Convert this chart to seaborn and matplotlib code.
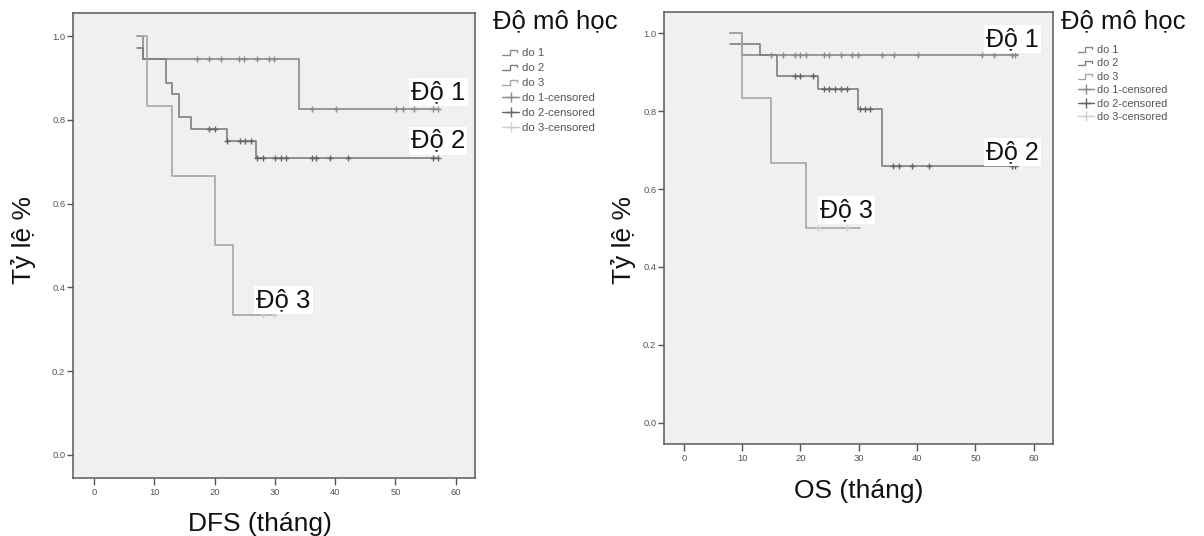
import numpy as np
import pandas as pd
import matplotlib
matplotlib.use("Agg")
import matplotlib.pyplot as plt
from matplotlib.lines import Line2D
from matplotlib.legend_handler import HandlerBase, HandlerLine2D
from matplotlib.ticker import FormatStrFormatter
import seaborn as sns

# ---- Kaplan-Meier estimates, disease-free survival (months) ----
# each curve: times where the level changes (first = curve start), levels, end time, censored times
dfs_g1_t = [7.2, 8.1, 34.0]
dfs_g1_s = [1.000, 0.944, 0.826]
dfs_g1_end = 57.0
dfs_g1_cens = [17.0, 19.1, 21.0, 24.1, 24.9, 27.0, 29.1, 29.9,
               36.1, 40.1, 50.1, 51.2, 53.1, 56.2, 57.0]

dfs_g2_t = [7.2, 8.1, 11.9, 13.0, 14.1, 16.1, 22.0, 26.9]
dfs_g2_s = [0.972, 0.944, 0.889, 0.861, 0.806, 0.778, 0.750, 0.710]
dfs_g2_end = 57.0
dfs_g2_cens = [19.1, 20.0, 22.0, 24.2, 25.0, 26.0, 27.0, 28.1, 30.0, 31.0,
               31.9, 36.1, 36.9, 39.1, 42.1, 56.2, 57.0]

dfs_g3_t = [7.2, 8.8, 13.0, 20.0, 23.0]
dfs_g3_s = [1.000, 0.833, 0.667, 0.500, 0.333]
dfs_g3_end = 30.0
dfs_g3_cens = [28.1, 29.9]

# ---- Kaplan-Meier estimates, overall survival (months) ----
os_g1_t = [8.0, 10.0]
os_g1_s = [1.000, 0.944]
os_g1_end = 57.3
os_g1_cens = [15.0, 17.0, 19.0, 19.9, 20.9, 24.1, 24.9, 27.0, 28.9, 29.9,
              34.0, 36.0, 40.1, 51.1, 53.1, 56.2, 56.8]

os_g2_t = [8.0, 13.0, 16.0, 23.0, 29.9, 34.0]
os_g2_s = [0.972, 0.944, 0.889, 0.857, 0.806, 0.660]
os_g2_end = 57.3
os_g2_cens = [19.0, 19.9, 22.1, 24.1, 24.9, 25.9, 26.9, 27.9, 30.2, 31.0,
              32.0, 35.9, 36.9, 39.1, 42.1, 56.2, 56.8]

os_g3_t = [8.0, 10.0, 15.0, 21.0]
os_g3_s = [1.000, 0.833, 0.667, 0.500]
os_g3_end = 30.2
os_g3_cens = [23.0, 28.0]

group_labels = ["do 1", "do 2", "do 3"]
censor_labels = ["do 1-censored", "do 2-censored", "do 3-censored"]
curve_labels = ["Độ 1", "Độ 2", "Độ 3"]
legend_title = "Độ mô học"
x_ticks = [0, 10, 20, 30, 40, 50, 60]
y_ticks = [0.0, 0.2, 0.4, 0.6, 0.8, 1.0]

line_colors = ["#8a8a8a", "#7e7e7e", "#a6a6a6"]
cens_colors = ["#8a8a8a", "#646464", "#cdcdcd"]

sns.set_theme(style="white")
plt.rcParams.update({
    "axes.facecolor": "#f0f0f0",
    "axes.edgecolor": "#5a5a5a",
    "axes.linewidth": 1.1,
    "xtick.color": "#555555",
    "ytick.color": "#555555",
    "xtick.labelcolor": "#555555",
    "ytick.labelcolor": "#555555",
})
plt.rcParams["font.family"] = ["Liberation Sans", "DejaVu Sans"]

W, H = 1204, 536
fig = plt.figure(figsize=(W / 100, H / 100), dpi=100)


def px_axes(l, t, r, b):
    return fig.add_axes([l / W, 1 - b / H, (r - l) / W, (b - t) / H])


def draw_curve(ax, t, s, end, cens, lc, cc):
    xs = list(t) + [end]
    ys = list(s) + [s[-1]]
    sns.lineplot(x=xs, y=ys, ax=ax, drawstyle="steps-post", estimator=None,
                 sort=False, color=lc, linewidth=1.2, zorder=2)
    idx = np.searchsorted(t, cens, side="right") - 1
    yc = np.asarray(s)[idx]
    sns.scatterplot(x=cens, y=yc, ax=ax, marker="+", s=22, color=cc,
                    linewidth=1.0, zorder=3)


def style_axes(ax, xlim, ylim):
    ax.set_xlim(*xlim)
    ax.set_ylim(*ylim)
    ax.set_xticks(x_ticks)
    ax.set_yticks(y_ticks)
    ax.yaxis.set_major_formatter(FormatStrFormatter("%.1f"))
    ax.tick_params(axis="x", direction="out", length=5, width=1.0, pad=2,
                   labelsize=6.8, bottom=True)
    ax.tick_params(axis="y", direction="out", length=4.5, width=1.0, pad=1,
                   labelsize=6.8, left=True)
    for sp in ax.spines.values():
        sp.set_visible(True)


class StepHandler(HandlerBase):
    def create_artists(self, legend, orig_handle, xdescent, ydescent,
                       width, height, fontsize, trans):
        x = np.array([0.0, 0.45, 0.45, 0.85, 0.85]) * width - xdescent
        y = np.array([0.15, 0.15, 0.75, 0.75, 0.5]) * height - ydescent
        ln = Line2D(x, y, color=orig_handle.get_color(),
                    lw=orig_handle.get_linewidth(), transform=trans)
        return [ln]


def add_legend(x_title, y_title, x_entries, y_entries, fs, spacing, title_fs):
    fig.text(x_title / W, 1 - y_title / H, legend_title, fontsize=title_fs,
             ha="left", va="center", color="#111111")
    handles = [Line2D([], [], color=c, lw=1.0) for c in line_colors]
    handles += [Line2D([], [], color=c, lw=1.0, marker="+", markersize=7,
                       markeredgewidth=1.0) for c in cens_colors]
    hmap = {h: StepHandler() for h in handles[:3]}
    hmap.update({h: HandlerLine2D(numpoints=1) for h in handles[3:]})
    leg = fig.legend(handles, group_labels + censor_labels, loc="upper left",
                     bbox_to_anchor=(x_entries / W, 1 - y_entries / H),
                     bbox_transform=fig.transFigure, frameon=False,
                     fontsize=fs, handlelength=1.5, handletextpad=0.25,
                     labelspacing=spacing, borderpad=0, borderaxespad=0,
                     handler_map=hmap)
    for txt in leg.get_texts():
        txt.set_color("#555555")


def label_box(ax, x, y, text, fs):
    ax.text(x, y, text, fontsize=fs, ha="left", va="center", color="#111111",
            zorder=5, bbox=dict(boxstyle="square,pad=0.08", facecolor="white",
                                edgecolor="none"))


# ---- left panel: DFS ----
ax1 = px_axes(73, 13, 475, 478)
for t, s, e, c, lc, cc in zip([dfs_g1_t, dfs_g2_t, dfs_g3_t],
                              [dfs_g1_s, dfs_g2_s, dfs_g3_s],
                              [dfs_g1_end, dfs_g2_end, dfs_g3_end],
                              [dfs_g1_cens, dfs_g2_cens, dfs_g3_cens],
                              line_colors, cens_colors):
    draw_curve(ax1, t, s, e, c, lc, cc)
style_axes(ax1, (-3.5, 63.2), (-0.055, 1.055))
ax1.set_xlabel("DFS (tháng)", fontsize=19, color="#111111", va="baseline")
ax1.xaxis.set_label_coords((260 - 73) / 402, (478 - 531) / 465)
ax1.set_ylabel("Tỷ lệ %", fontsize=19, color="#111111", va="baseline")
ax1.yaxis.set_label_coords((31 - 73) / 402, (478 - 240) / 465)
label_box(ax1, 52.6, 0.866, curve_labels[0], 18.5)
label_box(ax1, 52.6, 0.750, curve_labels[1], 18.5)
label_box(ax1, 26.9, 0.370, curve_labels[2], 18.5)

# ---- right panel: OS ----
ax2 = px_axes(664, 12, 1053, 444)
for t, s, e, c, lc, cc in zip([os_g1_t, os_g2_t, os_g3_t],
                              [os_g1_s, os_g2_s, os_g3_s],
                              [os_g1_end, os_g2_end, os_g3_end],
                              [os_g1_cens, os_g2_cens, os_g3_cens],
                              line_colors, cens_colors):
    draw_curve(ax2, t, s, e, c, lc, cc)
style_axes(ax2, (-3.4, 63.3), (-0.054, 1.054))
ax2.set_xlabel("OS (tháng)", fontsize=19, color="#111111", va="baseline")
ax2.xaxis.set_label_coords((859 - 664) / 389, (444 - 498) / 432)
ax2.set_ylabel("Tỷ lệ %", fontsize=19, color="#111111", va="baseline")
ax2.yaxis.set_label_coords((631 - 664) / 389, (444 - 240) / 432)
label_box(ax2, 51.8, 0.985, curve_labels[0], 18)
label_box(ax2, 51.8, 0.694, curve_labels[1], 18)
label_box(ax2, 23.3, 0.545, curve_labels[2], 18)

# ---- legends ----
add_legend(493, 21, 502, 48, 8.2, 0.44, 18.5)
add_legend(1061, 21, 1078, 45, 7.9, 0.31, 18.5)

fig.savefig("out.png", dpi=100, facecolor="white")
